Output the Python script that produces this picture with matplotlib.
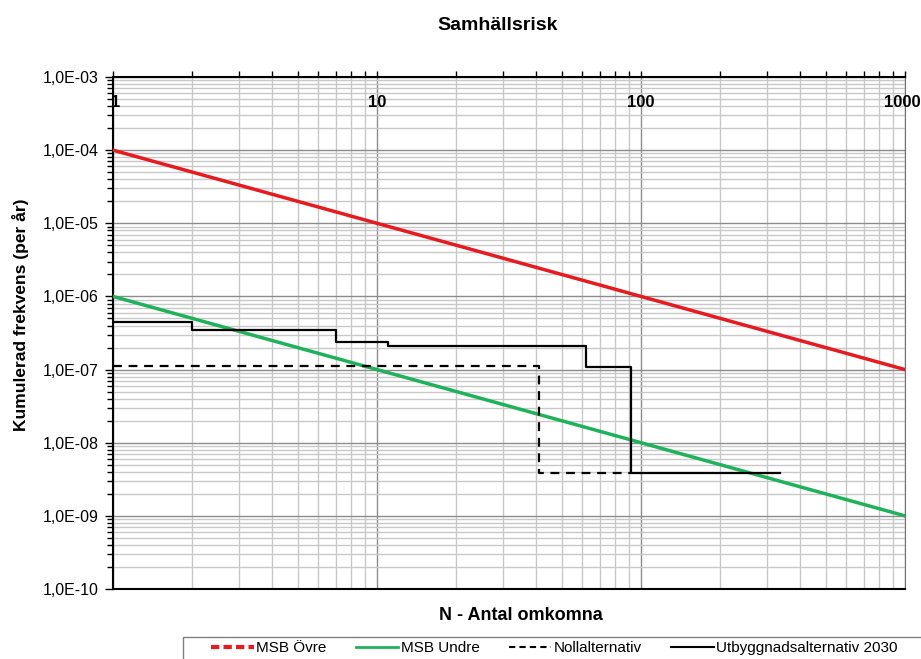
import numpy as np
import matplotlib.pyplot as plt
from matplotlib.lines import Line2D
from matplotlib.patches import Rectangle
from matplotlib.ticker import LogLocator, NullFormatter, FuncFormatter

plt.rcParams['font.family'] = ['Liberation Sans', 'DejaVu Sans']

# criteria lines (MSB)
n_crit = [1, 1000]
msb_ovre = [1e-4, 1e-7]
msb_undre = [1e-6, 1e-9]

# F/N curves
noll_n = [1, 35, 41, 41, 92]
noll_f = [1.13e-7, 1.13e-7, 1.08e-7, 3.9e-9, 3.9e-9]

utb_n = [1, 2, 7, 11, 62, 92, 336]
utb_f = [4.45e-7, 3.47e-7, 2.37e-7, 2.11e-7, 1.07e-7, 3.85e-9, 3.85e-9]

x_ticks = [1, 10, 100, 1000]
x_labels = ['1', '10', '100', '1000']

red = '#e8191f'
green = '#1fb25a'

fig = plt.figure(figsize=(9.21, 6.59), dpi=100)
ax = fig.add_axes([113/921, 1-589/659, (905-113)/921, (589-77)/659])

ax.plot(n_crit, msb_ovre, color=red, lw=2.5, zorder=3)
ax.plot(n_crit, msb_undre, color=green, lw=2.5, zorder=3)
ax.step(noll_n, noll_f, where='post', color='black', lw=1.6, ls=(0, (4, 3)), zorder=4)
ax.step(utb_n, utb_f, where='post', color='black', lw=1.6, zorder=4)

ax.set_xscale('log')
ax.set_yscale('log')
ax.set_xlim(1, 1000)
ax.set_ylim(1e-10, 1e-3)

ax.xaxis.set_major_locator(LogLocator(base=10, numticks=10))
ax.xaxis.set_minor_locator(LogLocator(base=10, subs=np.arange(2, 10), numticks=20))
ax.yaxis.set_major_locator(LogLocator(base=10, numticks=12))
ax.yaxis.set_minor_locator(LogLocator(base=10, subs=np.arange(2, 10), numticks=20))

ax.grid(which='major', color='#8c8c8c', lw=1.0)
ax.grid(which='minor', color='#c8c8c8', lw=1.0)
ax.set_axisbelow(True)

def yfmt(v, pos):
    e = int(round(np.log10(v)))
    return '1,0E-%02d' % (-e)

ax.yaxis.set_major_formatter(FuncFormatter(yfmt))
ax.yaxis.set_minor_formatter(NullFormatter())
ax.tick_params(axis='y', which='major', length=6, width=1, labelsize=11.5, pad=4)
ax.tick_params(axis='y', which='minor', length=4, width=1)

# x ticks on the top spine, labels drawn inside the plot
ax.xaxis.set_ticks_position('top')
ax.tick_params(axis='x', which='both', direction='out', length=4, width=1, labeltop=False, labelbottom=False)
x_shift = {1: 3, 10: 0, 100: 0, 1000: -3}
for xv, lab in zip(x_ticks, x_labels):
    ax.annotate(lab, (xv, 0.965), xycoords=ax.get_xaxis_transform(),
                xytext=(x_shift[xv], 0), textcoords='offset pixels',
                ha='center', va='top', fontsize=12, fontweight='bold', zorder=5,
                annotation_clip=False)

for s in ['left', 'bottom', 'top']:
    ax.spines[s].set_linewidth(1.5)
ax.spines['right'].set_color('#707070')

ax.set_xlabel('N - Antal omkomna', fontsize=13, fontweight='bold')
ax.xaxis.set_label_coords(0.515, -0.035, transform=ax.transAxes)
ax.xaxis.label.set_va('top')
ax.set_ylabel('Kumulerad frekvens (per år)', fontsize=12.5, fontweight='bold')
ax.yaxis.set_label_coords(29/921, 1-315/659, transform=fig.transFigure)
fig.text(0.54, 0.962, 'Samhällsrisk', ha='center', va='center', fontsize=14, fontweight='bold')

# legend box runs past the right and bottom edge like in the original
fig.patches.append(Rectangle((183/921, -0.05), 0.9, 0.05 + 1-637/659, transform=fig.transFigure,
                             facecolor='white', edgecolor='#808080', lw=1, zorder=1))

handles = [
    Line2D([], [], color=red, lw=3, ls=(0, (2, 1))),
    Line2D([], [], color=green, lw=2),
    Line2D([], [], color='black', lw=1.5, ls=(0, (3, 2))),
    Line2D([], [], color='black', lw=1.5),
]
labels = ['MSB Övre', 'MSB Undre', 'Nollalternativ', 'Utbyggnadsalternativ 2030']
leg = fig.legend(handles, labels, loc='center left', bbox_to_anchor=(199/921, 1-648/659),
                 ncol=4, fontsize=11, frameon=False,
                 handlelength=2.8, handletextpad=0.15, columnspacing=1.9, borderpad=0.3)
leg.set_zorder(2)

fig.savefig('out.png', dpi=100)
